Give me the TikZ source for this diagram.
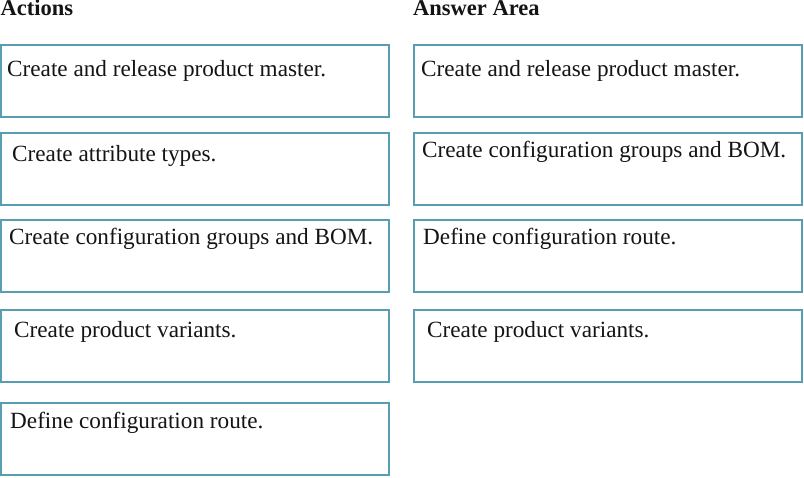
\documentclass[tikz,border=0pt]{standalone}
\usepackage{fontspec}
\setmainfont{Liberation Serif}
\definecolor{boxline}{RGB}{88,158,178}
\definecolor{inktext}{RGB}{20,20,20}
\begin{document}
\begin{tikzpicture}[x=1pt,y=-1pt,
  answerbox/.style={draw=boxline, line width=2pt, minimum width=388pt, minimum height=72pt, inner sep=0pt, outer sep=0pt, anchor=north west},
  boxtext/.style={anchor=base west, inner sep=0pt, text=inktext, font=\fontsize{23.2}{27}\selectfont},
  header/.style={anchor=base west, inner sep=0pt, text=inktext, font=\fontsize{22.5}{27}\selectfont\bfseries}]
\useasboundingbox (0,0) rectangle (804,478);
% headers
\node[header] (hact) at (0.5,16) {Actions};
\node[header] (hans) at (413,16) {Answer Area};
% left column boxes
\node[answerbox] (l1) at (1,45) {};
\node[answerbox] (l2) at (1,133) {};
\node[answerbox] (l3) at (1,220) {};
\node[answerbox] (l4) at (1,310) {};
\node[answerbox] (l5) at (1,403) {};
% right column boxes
\node[answerbox] (r1) at (414,45) {};
\node[answerbox] (r2) at (414,133) {};
\node[answerbox] (r3) at (414,220) {};
\node[answerbox] (r4) at (414,310) {};
% left texts
\node[boxtext] (l1t) at (7,77) {Create and release product master.};
\node[boxtext] (l2t) at (12,162) {Create attribute types.};
\node[boxtext] (l3t) at (9,245) {Create configuration groups and BOM.};
\node[boxtext] (l4t) at (14,338) {Create product variants.};
\node[boxtext] (l5t) at (10,429) {Define configuration route.};
% right texts
\node[boxtext] (r1t) at (421,77) {Create and release product master.};
\node[boxtext] (r2t) at (422,158) {Create configuration groups and BOM.};
\node[boxtext] (r3t) at (423,245) {Define configuration route.};
\node[boxtext] (r4t) at (427,338) {Create product variants.};
\end{tikzpicture}
\end{document}
